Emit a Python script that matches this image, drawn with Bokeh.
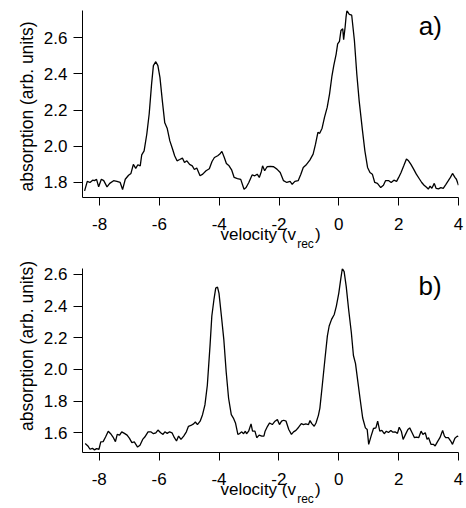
from bokeh.plotting import figure
from bokeh.layouts import column
from bokeh.models import FixedTicker, Label, Range1d, LinearAxis
from bokeh.embed import file_html
from bokeh.resources import INLINE

# ---------------- data ----------------
# panel a)
vel_a = [-8.50, -8.41, -8.32, -8.23, -8.17, -8.10, -8.03, -7.94, -7.86, -7.75,
         -7.66, -7.53, -7.42, -7.31, -7.23, -7.14, -7.03, -6.95, -6.87, -6.79,
         -6.72, -6.64, -6.59, -6.51, -6.42, -6.34, -6.26, -6.20, -6.12, -6.05,
         -5.98, -5.90, -5.82, -5.74, -5.65, -5.56, -5.49, -5.41, -5.32, -5.23,
         -5.16, -5.08, -4.99, -4.90, -4.83, -4.75, -4.64, -4.55, -4.44, -4.33,
         -4.24, -4.16, -4.05, -3.98, -3.91, -3.83, -3.76, -3.67, -3.58, -3.50,
         -3.39, -3.28, -3.17, -3.10, -3.01, -2.90, -2.81, -2.73, -2.66,
         -2.59, -2.55, -2.48, -2.40, -2.29, -2.18, -2.07, -1.96, -1.85, -1.74,
         -1.63, -1.56, -1.47, -1.36, -1.27, -1.19, -1.08, -0.97, -0.86, -0.78,
         -0.70, -0.64, -0.56, -0.48, -0.39, -0.31, -0.23, -0.17, -0.09, -0.04,
         0.02, 0.07, 0.13, 0.16, 0.21, 0.24, 0.27, 0.35, 0.43, 0.52,
         0.60, 0.68, 0.79, 0.87, 0.96, 1.04, 1.12, 1.20, 1.29, 1.40,
         1.49, 1.56, 1.67, 1.75, 1.84, 1.93, 2.00, 2.08, 2.17, 2.26,
         2.33, 2.41, 2.50, 2.59, 2.70, 2.77, 2.85, 2.94, 2.99, 3.05,
         3.11, 3.19, 3.25, 3.33, 3.41, 3.49, 3.58, 3.66, 3.73, 3.80,
         3.88, 3.93, 4.00]
abs_a = [1.754, 1.806, 1.800, 1.813, 1.810, 1.817, 1.776, 1.818, 1.810, 1.776,
         1.795, 1.810, 1.806, 1.800, 1.761, 1.818, 1.840, 1.850, 1.900, 1.878,
         1.898, 1.892, 1.953, 1.975, 2.068, 2.180, 2.345, 2.446, 2.468, 2.446,
         2.380, 2.250, 2.130, 2.100, 2.030, 1.985, 1.948, 1.920, 1.927, 1.935,
         1.910, 1.920, 1.900, 1.892, 1.872, 1.880, 1.837, 1.846, 1.865, 1.876,
         1.916, 1.938, 1.948, 1.957, 1.972, 1.938, 1.905, 1.892, 1.868, 1.828,
         1.822, 1.817, 1.763, 1.772, 1.800, 1.842, 1.837, 1.846, 1.828,
         1.861, 1.892, 1.865, 1.887, 1.889, 1.887, 1.874, 1.855, 1.810, 1.800,
         1.806, 1.790, 1.806, 1.810, 1.846, 1.883, 1.900, 1.924, 1.957, 2.012,
         2.077, 2.072, 2.100, 2.160, 2.215, 2.290, 2.390, 2.446, 2.510, 2.566,
         2.580, 2.640, 2.650, 2.590, 2.660, 2.714, 2.750, 2.730, 2.725, 2.585,
         2.400, 2.250, 2.087, 1.975, 1.883, 1.855, 1.846, 1.800, 1.795, 1.772,
         1.785, 1.810, 1.810, 1.800, 1.813, 1.806, 1.828, 1.855, 1.892, 1.930,
         1.920, 1.900, 1.874, 1.846, 1.818, 1.800, 1.785, 1.772, 1.763, 1.780,
         1.768, 1.795, 1.768, 1.765, 1.772, 1.768, 1.790, 1.810, 1.828, 1.850,
         1.828, 1.818, 1.785]

# panel b)
vel_b = [-8.47, -8.38, -8.31, -8.23, -8.16, -8.09, -8.01,
         -7.95, -7.87, -7.79, -7.70, -7.62, -7.54, -7.46, -7.40, -7.32, -7.25, -7.16, -7.07,
         -6.99, -6.91, -6.83, -6.72, -6.64, -6.55, -6.48, -6.37, -6.28, -6.19, -6.11, -6.04,
         -5.95, -5.87, -5.81, -5.73, -5.65, -5.57, -5.49, -5.42, -5.35, -5.27, -5.18, -5.09, -5.02,
         -4.94, -4.85, -4.79, -4.72, -4.63, -4.55, -4.47, -4.39, -4.30, -4.24, -4.17, -4.11, -4.05, -4.00,
         -3.92, -3.84, -3.76, -3.68, -3.59, -3.52, -3.45, -3.37, -3.32, -3.24, -3.18, -3.12, -3.08, -3.01,
         -2.93, -2.88, -2.80, -2.74, -2.66, -2.57, -2.50,
         -2.46, -2.38, -2.31, -2.22, -2.13, -2.05, -1.98, -1.91, -1.84, -1.76,
         -1.67, -1.58, -1.51, -1.43, -1.34, -1.25, -1.18, -1.10, -1.01, -0.96,
         -0.90, -0.82, -0.76, -0.68, -0.63, -0.55, -0.46, -0.38, -0.32, -0.24,
         -0.15, -0.08, 0.00, 0.07, 0.12, 0.18, 0.25, 0.33, 0.42, 0.49,
         0.56, 0.64, 0.71, 0.80, 0.89, 0.95, 1.00, 1.08, 1.16, 1.24,
         1.30, 1.37, 1.44, 1.52, 1.59, 1.66, 1.74, 1.81, 1.88, 1.96,
         2.02, 2.09, 2.15, 2.23, 2.31, 2.37, 2.45, 2.53, 2.59, 2.67,
         2.75, 2.81, 2.89, 2.95, 3.00, 3.08, 3.16, 3.22, 3.30, 3.38,
         3.47, 3.53, 3.58, 3.66, 3.74, 3.80, 3.88, 3.96, 4.00]
abs_b = [1.532, 1.517, 1.496, 1.502, 1.492, 1.500, 1.496,
         1.542, 1.544, 1.573, 1.610, 1.594, 1.573, 1.544, 1.590, 1.585, 1.606, 1.596, 1.585,
         1.565, 1.538, 1.542, 1.510, 1.521, 1.558, 1.573, 1.606, 1.606, 1.594, 1.600, 1.617,
         1.600, 1.590, 1.606, 1.596, 1.606, 1.600, 1.569, 1.548, 1.579, 1.558, 1.579, 1.606, 1.641,
         1.646, 1.656, 1.668, 1.652, 1.673, 1.714, 1.776, 1.900, 2.150, 2.337, 2.440, 2.513, 2.520, 2.480,
         2.337, 2.190, 1.984, 1.818, 1.714, 1.693, 1.662, 1.590, 1.594, 1.606, 1.594, 1.610, 1.594, 1.610,
         1.656, 1.610, 1.610, 1.569, 1.585, 1.579, 1.579,
         1.610, 1.641, 1.662, 1.652, 1.673, 1.683, 1.652, 1.673, 1.679, 1.673,
         1.621, 1.590, 1.606, 1.615, 1.635, 1.658, 1.652, 1.656, 1.652, 1.677,
         1.658, 1.641, 1.662, 1.710, 1.756, 1.900, 2.067, 2.212, 2.274, 2.316,
         2.347, 2.400, 2.480, 2.575, 2.637, 2.617, 2.523, 2.378, 2.233, 2.088,
         2.036, 1.920, 1.818, 1.693, 1.631, 1.621, 1.527, 1.579, 1.627, 1.631,
         1.673, 1.610, 1.615, 1.594, 1.610, 1.602, 1.615, 1.604, 1.606, 1.596,
         1.635, 1.610, 1.558, 1.590, 1.621, 1.631, 1.600, 1.569, 1.573, 1.569,
         1.610, 1.590, 1.600, 1.558, 1.569, 1.527, 1.527, 1.517, 1.544, 1.569,
         1.615, 1.579, 1.569, 1.569, 1.548, 1.527, 1.565, 1.579, 1.575]

x_ticks = [-8, -6, -4, -2, 0, 2, 4]
x_tick_labels = ["-8", "-6", "-4", "-2", "0", "2", "4"]
y_ticks_a = [1.8, 2.0, 2.2, 2.4, 2.6]
y_tick_labels_a = ["1.8", "2.0", "2.2", "2.4", "2.6"]
y_ticks_b = [1.6, 1.8, 2.0, 2.2, 2.4, 2.6]
y_tick_labels_b = ["1.6", "1.8", "2.0", "2.2", "2.4", "2.6"]

y_label = "absorption (arb. units)"
x_label_main = "velocity (v"
x_label_sub = "rec"
x_label_end = ")"

FONT = "Liberation Sans"
TICK_PX = 17
LAB_PX = 17
YLAB_PX = 17.5
SUB_PX = 12
NBSP = "\u00a0"


def style_axis(ax, ticks, labels, tick_out, standoff):
    ax.ticker = FixedTicker(ticks=ticks)
    ax.major_label_overrides = {t: l for t, l in zip(ticks, labels)}
    ax.major_tick_out = tick_out
    ax.major_tick_in = 0
    ax.minor_tick_out = 0
    ax.minor_tick_in = 0
    ax.axis_line_color = "black"
    ax.axis_line_width = 1
    ax.major_tick_line_color = "black"
    ax.major_tick_line_width = 1
    ax.major_label_text_font = FONT
    ax.major_label_text_font_size = f"{TICK_PX}px"
    ax.major_label_text_color = "black"
    ax.major_label_standoff = standoff


def panel(vel, ab, xr, yr, yt, ytl, letter, letter_xy, bl, br, bt, bb, h,
          main_standoff, sub_standoff, ylab_pad_before, ylab_pad_after):
    p = figure(width=466, height=h, x_range=Range1d(*xr), y_range=Range1d(*yr),
               output_backend="svg", toolbar_location=None,
               min_border_left=bl, min_border_right=br, min_border_top=bt,
               min_border_bottom=bb)
    p.line(vel, ab, line_color="black", line_width=1.3)
    p.xgrid.visible = False
    p.ygrid.visible = False
    p.outline_line_color = None
    p.background_fill_color = "white"
    p.border_fill_color = "white"

    style_axis(p.xaxis[0], x_ticks, x_tick_labels, 8, 12)
    style_axis(p.yaxis[0], yt, ytl, 9, 6)

    p.yaxis.axis_label = NBSP * ylab_pad_before + y_label + NBSP * ylab_pad_after
    p.yaxis.axis_label_text_font = FONT
    p.yaxis.axis_label_text_font_size = f"{YLAB_PX}px"
    p.yaxis.axis_label_text_font_style = "normal"
    p.yaxis.axis_label_text_color = "black"
    p.yaxis.axis_label_standoff = 4

    # x label: "velocity (v" + gap + ")" on the axis, subscript "rec" on a helper axis
    p.xaxis.axis_label = x_label_main + NBSP * 4 + x_label_end
    p.xaxis.axis_label_text_font = FONT
    p.xaxis.axis_label_text_font_size = f"{LAB_PX}px"
    p.xaxis.axis_label_text_font_style = "normal"
    p.xaxis.axis_label_text_color = "black"
    p.xaxis.axis_label_standoff = main_standoff

    sub = LinearAxis(ticker=FixedTicker(ticks=[]), axis_line_color=None,
                     major_tick_line_color=None, minor_tick_line_color=None,
                     major_tick_out=0, major_tick_in=0, minor_tick_out=0, minor_tick_in=0,
                     major_label_standoff=0, major_label_text_font_size="0px",
                     axis_label=NBSP * 21 + x_label_sub,
                     axis_label_text_font=FONT, axis_label_text_font_size=f"{SUB_PX}px",
                     axis_label_text_font_style="normal", axis_label_text_color="black",
                     axis_label_standoff=sub_standoff)
    p.add_layout(sub, "below")

    p.add_layout(Label(x=letter_xy[0], y=letter_xy[1], text=letter, text_font_size="26px",
                       x_units="screen", y_units="screen", text_font=FONT,
                       text_color="black", text_align="left", text_baseline="middle"))
    return p


pa = panel(vel_a, abs_a, (-8.57, 4.0), (1.717, 2.751), y_ticks_a, y_tick_labels_a,
           "a)", (336.3, 171.5), 82, 4, 10, 61, 258, -8, -10, 0, 1)
pb = panel(vel_b, abs_b, (-8.56, 4.0), (1.4755, 2.637), y_ticks_b, y_tick_labels_b,
           "b)", (336.0, 167.0), 77, 8, 10, 53, 250, -8, -10, 6, 0)

layout = column(pa, pb, spacing=0)
open("out.html", "w").write(file_html(layout, INLINE))
